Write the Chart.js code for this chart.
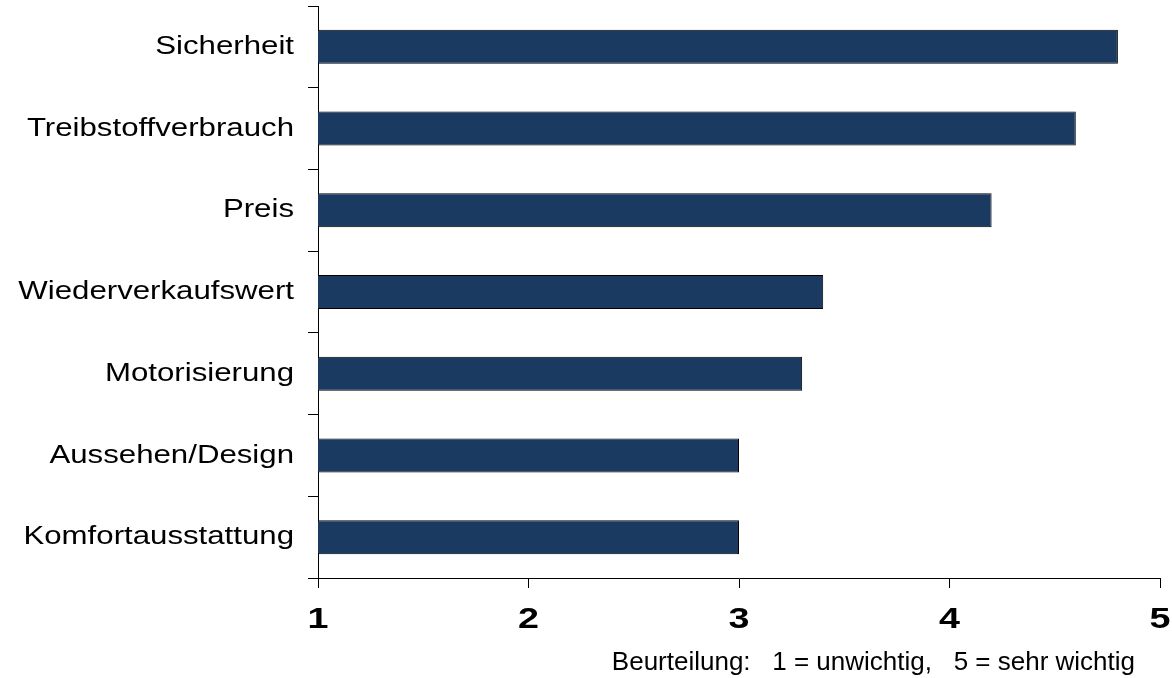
<!DOCTYPE html>
<html><head><meta charset="utf-8">
<script src="https://cdn.jsdelivr.net/npm/chart.js@4/dist/chart.umd.min.js"></script>
<style>html,body{margin:0;padding:0;background:#fff}#w{width:1172px;height:678px}</style>
</head><body><div id="w"><canvas id="c"></canvas></div>
<script>
const categories = ["Sicherheit","Treibstoffverbrauch","Preis","Wiederverkaufswert","Motorisierung","Aussehen/Design","Komfortausstattung"];
const values = [4.8, 4.6, 4.2, 3.4, 3.3, 3.0, 3.0];
const xTicks = [1,2,3,4,5];
const axisNote = "Beurteilung:   1 = unwichtig,   5 = sehr wichtig";

const FONT = '"Liberation Sans", Arial, sans-serif';

// draw tick labels with a slight horizontal stretch (as in the reference)
function stretchLabels(scale, sx){
  const orig = scale.drawLabels;
  scale.drawLabels = function(chartArea){
    let items;
    try { items = this.getLabelItems(chartArea); } catch(e){ return orig.call(this, chartArea); }
    const ctx = this.ctx;
    for (const it of items){
      const o = it.options;
      ctx.save();
      ctx.translate(o.translation[0], o.translation[1]);
      if (o.rotation) ctx.rotate(o.rotation);
      ctx.scale(sx, 1);
      ctx.font = it.font.string;
      ctx.fillStyle = o.color;
      ctx.textAlign = o.textAlign;
      ctx.textBaseline = o.textBaseline;
      const lines = Array.isArray(it.label) ? it.label : [it.label];
      let y = it.textOffset;
      for (const l of lines){ ctx.fillText(l, 0, y); y += it.font.lineHeight; }
      ctx.restore();
    }
  };
}

const stretchPlugin = {
  id:'stretch',
  afterLayout(chart){
    const x = chart.scales.x, y = chart.scales.y;
    if (!x._stretched){ stretchLabels(x, 1.3); x._stretched = true; }
    if (!y._stretched){ stretchLabels(y, 1.2); y._stretched = true; }
  }
};

const notePlugin = {
  id:'note',
  afterDraw(chart){
    const ctx = chart.ctx; const x = chart.scales.x;
    ctx.save();
    ctx.font = '26px ' + FONT;
    ctx.fillStyle = '#000'; ctx.textAlign = 'right'; ctx.textBaseline = 'alphabetic';
    ctx.fillText(axisNote, x.right - 25, 670);
    ctx.restore();
  }
};

function noPad(s){ s.paddingTop = 0; s.paddingBottom = 0; s.paddingLeft = 0; s.paddingRight = 0; }

new Chart(document.getElementById('c'), {
  type:'bar',
  data:{labels:categories, datasets:[{data:values, backgroundColor:'#1a3a62', borderColor:'#000', borderWidth:1, borderSkipped:false, categoryPercentage:1, barPercentage:0.416}]},
  options:{
    indexAxis:'y', responsive:true, maintainAspectRatio:false, animation:false,
    layout:{padding:{top:6,right:12,left:0,bottom:0}},
    plugins:{legend:{display:false}, tooltip:{enabled:false}},
    scales:{
      x:{min:1,max:5, afterBuildTicks(s){s.ticks = xTicks.map(v=>({value:v}));},
        grid:{drawOnChartArea:false, tickLength:10, color:'#000'},
        border:{color:'#000', width:1},
        ticks:{color:'#000', padding:15, maxRotation:0, autoSkip:false, font:{family:FONT, size:29, weight:'bold'}},
        afterFit(s){ s.height = 100; noPad(s); }
      },
      y:{offset:true,
        grid:{offset:true, drawOnChartArea:false, tickLength:10, color:'#000'},
        border:{color:'#000', width:1},
        ticks:{color:'#000', padding:14, autoSkip:false, font:{family:FONT, size:26}},
        afterFit(s){ s.width = 318; noPad(s); }
      }
    }
  },
  plugins:[stretchPlugin, notePlugin]
});
</script></body></html>
